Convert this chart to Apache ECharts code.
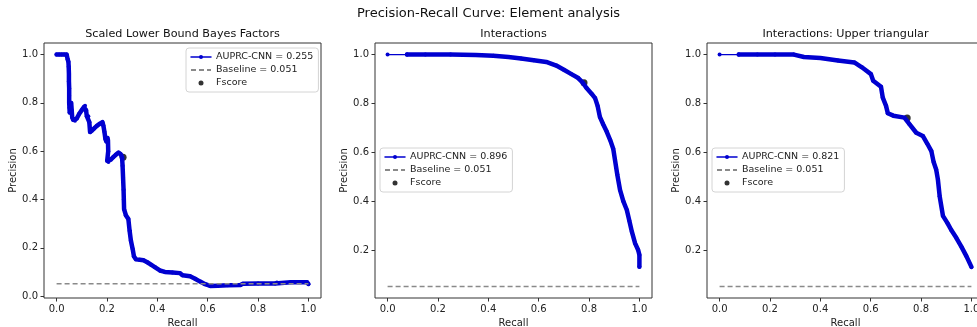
<!DOCTYPE html>
<html>
<head>
<meta charset="utf-8">
<script src="https://cdn.jsdelivr.net/npm/echarts@6/dist/echarts.min.js"></script>
<style>
  html, body { margin: 0; padding: 0; background: #fff; }
  #chart { width: 977px; height: 327px; }
</style>
</head>
<body>
<div id="chart"></div>
<script>
// PR 曲线数据 [recall, precision]
const prBayes = [
  [0, 1.0], [0.01, 1.0], [0.02, 1.0], [0.03, 1.0], [0.04, 1.0], [0.044, 0.98], [0.047, 0.97],
  [0.048, 0.95], [0.049, 0.92], [0.049, 0.89], [0.05, 0.86], [0.05, 0.83], [0.05, 0.80],
  [0.051, 0.78], [0.052, 0.76], [0.055, 0.79], [0.058, 0.80], [0.06, 0.77], [0.062, 0.74],
  [0.066, 0.73], [0.073, 0.726], [0.08, 0.735], [0.09, 0.755], [0.1, 0.77], [0.108, 0.782],
  [0.113, 0.788], [0.117, 0.77], [0.12, 0.745], [0.126, 0.745], [0.13, 0.72], [0.133, 0.679],
  [0.14, 0.685], [0.15, 0.695], [0.16, 0.705], [0.172, 0.714], [0.182, 0.72], [0.186, 0.705],
  [0.19, 0.68], [0.194, 0.65], [0.198, 0.64], [0.202, 0.655], [0.204, 0.645], [0.205, 0.60],
  [0.201, 0.56], [0.206, 0.555], [0.215, 0.565], [0.225, 0.575], [0.235, 0.585], [0.246, 0.594],
  [0.254, 0.588], [0.26, 0.575], [0.262, 0.54], [0.264, 0.49], [0.266, 0.44], [0.267, 0.40],
  [0.268, 0.36], [0.275, 0.335], [0.285, 0.319], [0.29, 0.27], [0.295, 0.23], [0.302, 0.195],
  [0.307, 0.165], [0.315, 0.152], [0.33, 0.15], [0.345, 0.148], [0.36, 0.14], [0.375, 0.13],
  [0.39, 0.12], [0.41, 0.106], [0.43, 0.10], [0.46, 0.098], [0.49, 0.095], [0.5, 0.086],
  [0.53, 0.082], [0.55, 0.072], [0.57, 0.06], [0.59, 0.049], [0.61, 0.042], [0.64, 0.043],
  [0.68, 0.045], [0.73, 0.046], [0.74, 0.051], [0.8, 0.052], [0.868, 0.052], [0.875, 0.056],
  [0.93, 0.057], [0.995, 0.057], [1.0, 0.05]
];
const prInter = [
  [0, 1.0], [0.077, 1.0], [0.15, 1.0], [0.25, 1.0], [0.35, 0.998], [0.42, 0.995], [0.48, 0.99],
  [0.53, 0.984], [0.58, 0.977], [0.63, 0.97], [0.67, 0.955], [0.7, 0.938], [0.73, 0.92],
  [0.757, 0.904], [0.775, 0.885], [0.79, 0.863], [0.81, 0.84], [0.824, 0.822], [0.834, 0.79],
  [0.843, 0.745], [0.856, 0.715], [0.87, 0.685], [0.884, 0.65], [0.896, 0.615], [0.903, 0.569],
  [0.912, 0.51], [0.923, 0.446], [0.936, 0.4], [0.95, 0.364], [0.96, 0.32], [0.97, 0.275],
  [0.983, 0.227], [0.995, 0.2], [1.0, 0.18], [1.0, 0.132]
];
const prUpper = [
  [0, 1.0], [0.076, 1.0], [0.15, 1.0], [0.22, 1.0], [0.295, 1.0], [0.335, 0.99], [0.4, 0.986],
  [0.47, 0.976], [0.535, 0.968], [0.565, 0.948], [0.601, 0.92], [0.61, 0.893], [0.641, 0.868],
  [0.648, 0.824], [0.661, 0.79], [0.668, 0.76], [0.69, 0.75], [0.734, 0.742], [0.754, 0.715],
  [0.781, 0.68], [0.807, 0.667], [0.825, 0.635], [0.841, 0.605], [0.85, 0.56], [0.86, 0.53],
  [0.867, 0.488], [0.874, 0.42], [0.887, 0.34], [0.905, 0.31], [0.92, 0.282], [0.94, 0.25],
  [0.96, 0.214], [0.98, 0.175], [1.0, 0.131]
];
// 最佳 F 值点
const fscorePts = [[0.264, 0.575], [0.78, 0.885], [0.745, 0.74]];
const baseline = 0.051;
const auprc = ['0.255', '0.896', '0.821'];
const panelTitles = ['Scaled Lower Bound Bayes Factors', 'Interactions', 'Interactions: Upper triangular'];
const xTicks = [0, 0.2, 0.4, 0.6, 0.8, 1.0];
const yTicks1 = [0, 0.2, 0.4, 0.6, 0.8, 1.0];
const yTicks23 = [0.2, 0.4, 0.6, 0.8, 1.0];

const FONT = 'DejaVu Sans';
const BLUE = '#0000d0';
const chart = echarts.init(document.getElementById('chart'));

const grids = [
  { left: 44, top: 43, width: 277, height: 255 },
  { left: 375, top: 43, width: 277, height: 255 },
  { left: 707, top: 43, width: 277, height: 255 }
];
const yRanges = [[-0.008, 1.048], [0.0036, 1.0475], [0.0036, 1.0475]];
const curves = [prBayes, prInter, prUpper];
const legendPos = [{ left: 186, top: 48 }, { left: 380, top: 148 }, { left: 712, top: 148 }];

const option = {
  animation: false,
  backgroundColor: '#fff',
  title: [
    { text: 'Precision-Recall Curve: Element analysis', left: 'center', top: 7, padding: 0,
      textStyle: { fontFamily: FONT, fontSize: 13, fontWeight: 'normal', color: '#111' } }
  ],
  grid: [],
  xAxis: [],
  yAxis: [],
  legend: [],
  series: []
};

for (let i = 0; i < 3; i++) {
  const g = grids[i];
  option.title.push({
    text: panelTitles[i], left: g.left + g.width / 2, top: 28.5, padding: 0, textAlign: 'center',
    textStyle: { fontFamily: FONT, fontSize: 11.2, fontWeight: 'normal', color: '#111' }
  });
  option.grid.push(Object.assign({
    show: true, borderColor: '#333', borderWidth: 1, backgroundColor: '#fff',
    containLabel: false, outerBoundsMode: 'none'
  }, g));
  option.xAxis.push({
    type: 'value', gridIndex: i, min: -0.05, max: 1.05,
    name: 'Recall', nameLocation: 'middle', nameGap: 19,
    nameTextStyle: { fontFamily: FONT, fontSize: 10, color: '#222' },
    axisLine: { show: false, onZero: false },
    axisTick: { show: true, customValues: xTicks, length: 3.5, lineStyle: { color: '#333' } },
    axisLabel: { customValues: xTicks, margin: 6, fontFamily: FONT, fontSize: 10, color: '#222',
      formatter: v => v.toFixed(1) },
    splitLine: { show: false }
  });
  const yt = i === 0 ? yTicks1 : yTicks23;
  option.yAxis.push({
    type: 'value', gridIndex: i, min: yRanges[i][0], max: yRanges[i][1],
    name: 'Precision', nameLocation: 'middle', nameGap: 26,
    nameTextStyle: { fontFamily: FONT, fontSize: 10, color: '#222' },
    axisLine: { show: false, onZero: false },
    axisTick: { show: true, customValues: yt, length: 3.5, lineStyle: { color: '#333' } },
    axisLabel: { customValues: yt, margin: 6, fontFamily: FONT, fontSize: 10, color: '#222',
      formatter: v => v.toFixed(1) },
    splitLine: { show: false }
  });

  const curveName = 'AUPRC-CNN = ' + auprc[i];
  // F 值点（压在曲线下面）
  option.series.push({
    name: 'Fscore', type: 'scatter', xAxisIndex: i, yAxisIndex: i, z: 1,
    symbol: 'circle', symbolSize: 7, symbolKeepAspect: true,
    itemStyle: { color: '#000' }, data: [fscorePts[i]]
  });
  // 曲线开头稀疏的一段用细线
  const start = i === 0 ? 0 : 1;
  if (start > 0) {
    option.series.push({
      type: 'line', xAxisIndex: i, yAxisIndex: i, z: 2,
      data: curves[i].slice(0, 2), symbol: 'circle', symbolSize: 4, showSymbol: true,
      lineStyle: { color: BLUE, width: 1.3 }, itemStyle: { color: BLUE }
    });
  }
  option.series.push({
    name: curveName, type: 'line', xAxisIndex: i, yAxisIndex: i, z: 3,
    data: curves[i].slice(start), symbol: 'circle', symbolSize: 4, showSymbol: true,
    lineStyle: { color: BLUE, width: 4.5, join: 'round', cap: 'round' },
    itemStyle: { color: BLUE, borderWidth: 0 }
  });
  option.series.push({
    name: 'Baseline = 0.051', type: 'line', xAxisIndex: i, yAxisIndex: i, z: 4,
    data: [[0, baseline], [1, baseline]], symbol: 'none', showSymbol: false,
    lineStyle: { color: '#8a8a8a', width: 1.5, type: [5, 3] }, itemStyle: { color: '#8a8a8a' }
  });

  option.legend.push(Object.assign({
    orient: 'vertical', padding: [4, 5, 4, 4], itemGap: 3, itemWidth: 20, itemHeight: 5,
    borderColor: '#d4d4d4', borderWidth: 1, borderRadius: 3, backgroundColor: '#fff',
    textStyle: { fontFamily: FONT, fontSize: 9.5, color: '#222', padding: [1, 0, 1, 0] },
    data: [
      { name: curveName, lineStyle: { width: 1.5 }, itemStyle: { color: BLUE } },
      { name: 'Baseline = 0.051', itemStyle: { opacity: 0 }, lineStyle: { opacity: 1 } },
      { name: 'Fscore', icon: 'circle', itemStyle: { color: '#000' } }
    ]
  }, legendPos[i]));
}

chart.setOption(option);
</script>
</body>
</html>
